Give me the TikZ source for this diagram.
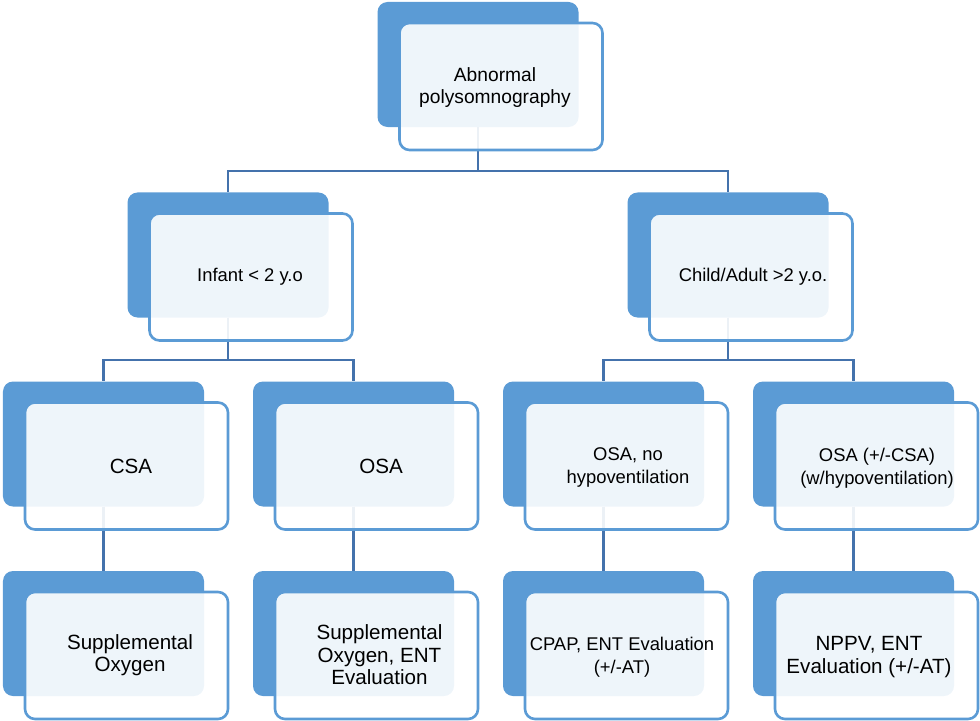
\documentclass[tikz,border=0pt]{standalone}
\usepackage{fontspec}
\setmainfont{Liberation Sans}
\definecolor{sablue}{HTML}{5B9BD5}
\definecolor{lnblue}{HTML}{4472AC}
\begin{document}
\begin{tikzpicture}[x=1bp,y=-1bp,
  backbox/.style={fill=sablue, rounded corners=10bp, minimum width=201bp, minimum height=125bp, inner sep=0pt},
  frontbox/.style={fill=white, fill opacity=0.9, draw=sablue, line width=2.6bp, rounded corners=10bp, minimum width=203bp, minimum height=127bp, inner sep=0pt},
  conn/.style={draw=lnblue, line width=2.6bp},
  lbl/.style={align=center, text=black, inner sep=0pt},
  fa/.style={font=\fontsize{20.6bp}{22.5bp}\selectfont},
  fb/.style={font=\fontsize{18.4bp}{23bp}\selectfont},
  fc/.style={font=\fontsize{19.2bp}{22bp}\selectfont}]
\useasboundingbox (0,0) rectangle (980,721);
% back boxes
\node[backbox] (bA) at (478,64.5) {};
\node[backbox] (bB) at (228,255) {};
\node[backbox] (bC) at (728,255) {};
\node[backbox] (bD) at (103.5,444) {};
\node[backbox] (bE) at (353.5,444) {};
\node[backbox] (bF) at (603.5,444) {};
\node[backbox] (bG) at (853.5,444) {};
\node[backbox] (bH) at (103.5,633.5) {};
\node[backbox] (bI) at (353.5,633.5) {};
\node[backbox] (bJ) at (603.5,633.5) {};
\node[backbox] (bK) at (853.5,633.5) {};
% connectors
\coordinate (j1) at (478,171);
\coordinate (j2) at (228,360);
\coordinate (j3) at (728,360);
\draw[conn] (bA.south) -- (j1) -| (bB.north);
\draw[conn] (j1) -| (bC.north);
\draw[conn] (bB.south) -- (j2) -| (bD.north);
\draw[conn] (j2) -| (bE.north);
\draw[conn] (bC.south) -- (j3) -| (bF.north);
\draw[conn] (j3) -| (bG.north);
\draw[conn] (bD.south) -- (bH.north);
\draw[conn] (bE.south) -- (bI.north);
\draw[conn] (bF.south) -- (bJ.north);
\draw[conn] (bG.south) -- (bK.north);
% front boxes
\node[frontbox] (fA) at (501,86.5) {};
\node[frontbox] (fB) at (251,277) {};
\node[frontbox] (fC) at (751,277) {};
\node[frontbox] (fD) at (126.5,466) {};
\node[frontbox] (fE) at (376.5,466) {};
\node[frontbox] (fF) at (626.5,466) {};
\node[frontbox] (fG) at (876.5,466) {};
\node[frontbox] (fH) at (126.5,655.5) {};
\node[frontbox] (fI) at (376.5,655.5) {};
\node[frontbox] (fJ) at (626.5,655.5) {};
\node[frontbox] (fK) at (876.5,655.5) {};
% labels
\node[lbl,fc] (tA) at (495,88) {Abnormal\\polysomnography};
\node[lbl,fb] (tB) at (250,277) {Infant < 2 y.o};
\node[lbl,fb] (tC) at (753,277) {Child/Adult >2 y.o.};
\node[lbl,fa] (tD) at (131,466) {CSA};
\node[lbl,fa] (tE) at (381,466) {OSA};
\node[lbl,fb] (tF) at (628,467) {OSA, no\\hypoventilation};
\node[lbl,fb] (tG) at (877,468) {OSA (+/-CSA)\\(w/hypoventilation)};
\node[lbl,fa] (tH) at (130,655) {Supplemental\\Oxygen};
\node[lbl,fa] (tI) at (379.5,655) {Supplemental\\Oxygen, ENT\\Evaluation};
\node[lbl,fb] (tJ) at (622,657) {CPAP, ENT Evaluation\\(+/-AT)};
\node[lbl,fa] (tK) at (869,657) {NPPV, ENT\\Evaluation (+/-AT)};
\end{tikzpicture}
\end{document}
